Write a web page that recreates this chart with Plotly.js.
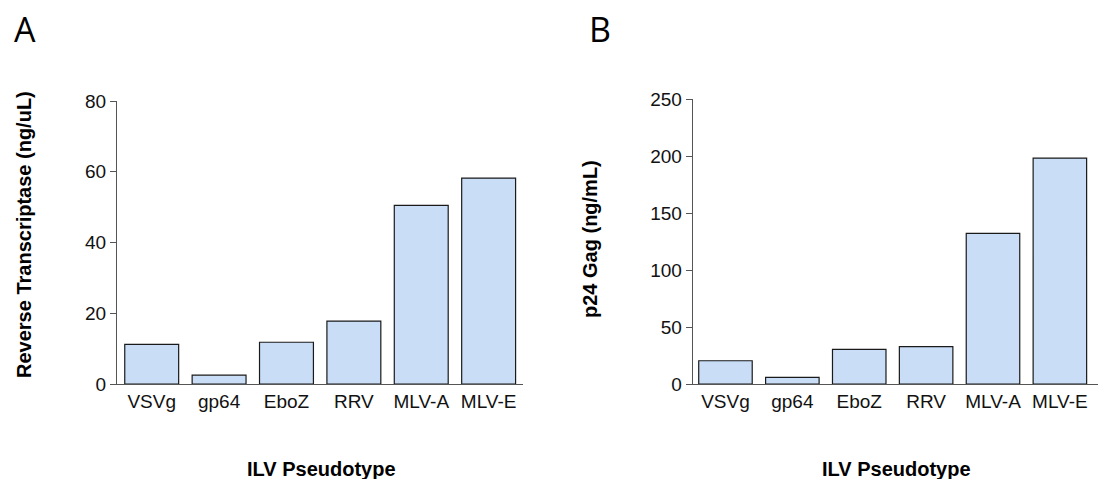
<!DOCTYPE html>
<html>
<head>
<meta charset="utf-8">
<script src="https://cdn.plot.ly/plotly-3.0.1.min.js"></script>
<style>html,body{margin:0;padding:0;background:#fff;}#chart{width:1098px;height:479px;}</style>
</head>
<body>
<div id="chart"></div>
<script>
// Data
const categories = ["VSVg", "gp64", "EboZ", "RRV", "MLV-A", "MLV-E"];
const reverseTranscriptase = [11.2, 2.5, 11.8, 17.8, 50.5, 58.2]; // ng/uL
const p24Gag = [20.4, 5.8, 30.4, 32.7, 132.2, 198.2];              // ng/mL
const ticksA = [0, 20, 40, 60, 80];
const ticksB = [0, 50, 100, 150, 200, 250];
const xTitle = "ILV Pseudotype";
const yTitleA = "Reverse Transcriptase (ng/uL)";
const yTitleB = "p24 Gag (ng/mL)";
const panelLabels = ["A", "B"];

const W = 1098, H = 479;
const px = v => v / W, py = v => 1 - v / H;

const barStyle = {color: "#c9ddf7", line: {color: "#1a1a1a", width: 1.2}};
const traces = [
  {type: "bar", x: categories, y: reverseTranscriptase, xaxis: "x", yaxis: "y", marker: barStyle, hoverinfo: "x+y"},
  {type: "bar", x: categories, y: p24Gag, xaxis: "x2", yaxis: "y2", marker: barStyle, hoverinfo: "x+y"}
];

const tickFont = {family: "Liberation Sans, Arial, sans-serif", size: 19, color: "#111"};
const titleFont = {family: "Liberation Sans, Arial, sans-serif", size: 20, color: "#000", weight: "bold"};
const yTitleFont = {family: "Liberation Sans, Arial, sans-serif", size: 20, color: "#000", weight: "bold"};

const xCommon = {
  type: "category", showline: true, linecolor: "#555", linewidth: 1,
  ticks: "", showgrid: false, zeroline: false, tickfont: tickFont, fixedrange: true
};
const yCommon = {
  showline: true, linecolor: "#555", linewidth: 1, ticks: "outside", ticklen: 6,
  tickcolor: "#555", tickwidth: 1, showgrid: false, zeroline: false, tickfont: tickFont,
  fixedrange: true
};

const layout = {
  width: W, height: H,
  margin: {l: 0, r: 0, t: 0, b: 0, pad: 0},
  paper_bgcolor: "#fff", plot_bgcolor: "#fff",
  showlegend: false, bargap: 0.2,
  xaxis: Object.assign({}, xCommon, {domain: [px(117), px(523)], anchor: "y", range: [-0.515, 5.51]}),
  yaxis: Object.assign({}, yCommon, {domain: [py(384), py(101)], anchor: "x", range: [0, 80], tickvals: ticksA}),
  xaxis2: Object.assign({}, xCommon, {domain: [px(692.7), 1], anchor: "y2", range: [-0.49, 5.57]}),
  yaxis2: Object.assign({}, yCommon, {domain: [py(384), py(99)], anchor: "x2", range: [0, 250], tickvals: ticksB}),
  annotations: [
    {text: panelLabels[0], xref: "paper", yref: "paper", x: px(12), y: py(29), xanchor: "left", yanchor: "middle",
     showarrow: false, font: {family: "Open Sans, sans-serif", size: 34, color: "#000"}},
    {text: panelLabels[1], xref: "paper", yref: "paper", x: px(587), y: py(29), xanchor: "left", yanchor: "middle",
     showarrow: false, font: {family: "Open Sans, sans-serif", size: 34, color: "#000"}},
    {text: xTitle, xref: "paper", yref: "paper", x: px(321), y: py(469), xanchor: "center", yanchor: "middle",
     showarrow: false, font: titleFont},
    {text: xTitle, xref: "paper", yref: "paper", x: px(896), y: py(469), xanchor: "center", yanchor: "middle",
     showarrow: false, font: titleFont},
    {text: yTitleA, xref: "paper", yref: "paper", x: px(24), y: py(235), xanchor: "center", yanchor: "middle",
     textangle: -90, showarrow: false, font: yTitleFont},
    {text: yTitleB, xref: "paper", yref: "paper", x: px(590), y: py(239), xanchor: "center", yanchor: "middle",
     textangle: -90, showarrow: false, font: yTitleFont}
  ]
};

Plotly.newPlot("chart", traces, layout, {displayModeBar: false, staticPlot: true});
</script>
</body>
</html>
